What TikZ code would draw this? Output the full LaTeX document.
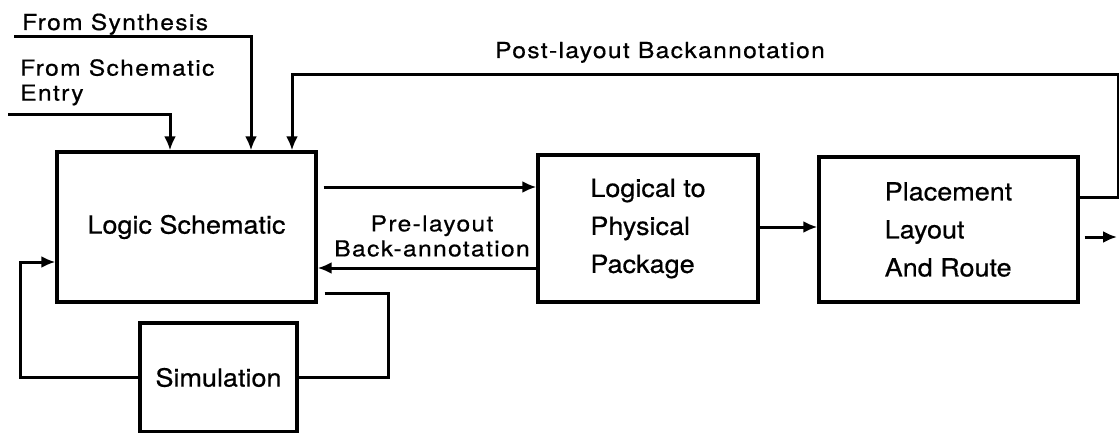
\documentclass[tikz,border=0pt]{standalone}
\usepackage{fontspec}
\setmainfont{TeX Gyre Heros}
\newfontfamily\boxfont[FakeStretch=1.08,FakeBold=0.6]{TeX Gyre Heros}
\newfontfamily\lblfont[FakeStretch=1.12,LetterSpace=6,FakeBold=0.6]{TeX Gyre Heros}
\usetikzlibrary{arrows.meta}

\tikzset{
  box/.style={draw, rectangle, line width=3.2pt, inner sep=0pt, align=left,
    font=\boxfont\fontsize{25}{38}\selectfont},
  lbl/.style={inner sep=0pt, font=\lblfont\fontsize{22}{25}\selectfont},
  wire/.style={line width=3pt},
  arr/.style={wire, -{Latex[length=14pt,width=12pt]}},
}

\begin{document}
\begin{tikzpicture}[x=1pt,y=-1pt]
  \useasboundingbox (0,0) rectangle (1119,433);
  % The blocks of the flow.
  \node[box, minimum width=259pt, minimum height=150pt] (lsch) at (186.5,227) {Logic Schematic};
  \node[box, minimum width=220pt, minimum height=147pt] (pkg) at (648,228.5) {Logical to\\Physical\\Package};
  \node[box, minimum width=259pt, minimum height=145pt] (place) at (948.5,229.5) {Placement\\Layout\\And Route};
  \node[box, minimum width=157pt, minimum height=109pt] (sim) at (218.5,377.5) {Simulation};
  % The inputs from the top left.
  \node[lbl, anchor=base west] (synlbl) at (22,30) {From Synthesis};
  \node[lbl, anchor=north west, align=left] (entlbl) at (20,59) {From Schematic\\Entry};
  \coordinate (synth) at (14,37);
  \coordinate (entry) at (8,115);
  \draw[arr] (synth) -| ([xshift=64.5pt]lsch.north);
  \draw[arr] (entry) -| ([xshift=-16.5pt]lsch.north);
  % Forward path and pre-layout back-annotation.
  \draw[arr] ([xshift=6pt,yshift=40pt]lsch.east) -- ([yshift=41.5pt]pkg.west);
  \draw[arr] ([yshift=-39.5pt]pkg.west) -- ([yshift=-41pt]lsch.east);
  \node[lbl, align=center] (prelbl) at (432,236) {Pre-layout\\Back-annotation};
  \draw[arr] ([yshift=1.5pt]pkg.east) -- ([yshift=2.5pt]place.west);
  % Post-layout back-annotation and the output.
  \draw[arr] ([yshift=32.5pt]place.east) -- ++(39,0) -- ++(0,-122) -| ([xshift=105.5pt]lsch.north);
  \node[lbl, anchor=base] (postlbl) at (660,58) {Post-layout Backannotation};
  \coordinate (out) at (1117,237);
  \draw[arr] ([xshift=5pt,yshift=-7.5pt]place.east) -- (out);
  % The simulation loop.
  \draw[wire] ([xshift=7pt,yshift=10pt]lsch.south east) -- ++(64,0) |- (sim.east);
  \draw[arr] (sim.west) -- ++(-118,0) |- ([yshift=-35pt]lsch.west);
\end{tikzpicture}
\end{document}
